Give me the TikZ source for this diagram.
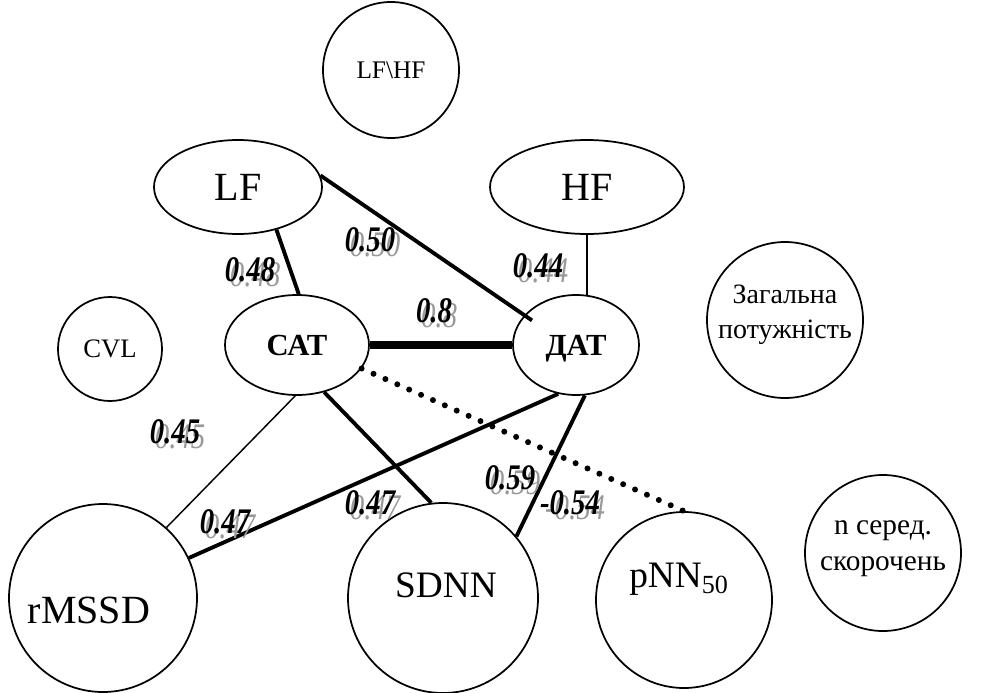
\documentclass[tikz,border=0pt]{standalone}
\usepackage{fontspec}
\setmainfont{Liberation Serif}
\usetikzlibrary{shapes.geometric}
\newcommand{\corrlab}[3]{%
  \node[shadowlab] (#1s) at (#2) {\scalebox{0.8}[1]{#3}};
  \node[corrlab] (#1) at (#2) {\scalebox{0.8}[1]{#3}};}
\begin{document}
\begin{tikzpicture}[x=0.75pt,y=-0.75pt,
  bub/.style={draw, line width=1.3pt, circle, inner sep=0pt, align=center},
  ell/.style={draw, line width=1.3pt, ellipse, inner sep=0pt, align=center},
  txt/.style={inner sep=0pt, align=center},
  thk/.style={line width=2.9pt},
  thn/.style={line width=1.1pt},
  bar/.style={line width=6pt},
  dotline/.style={line width=4.5pt, line cap=round, dash pattern=on 0pt off 9.75pt},
  corrlab/.style={inner sep=0pt, font=\fontsize{27}{29}\selectfont\bfseries\itshape},
  shadowlab/.style={inner sep=0pt, text=black!40, xshift=3.8pt, yshift=-3.3pt, font=\fontsize{27}{29}\selectfont\itshape},
  ]
\useasboundingbox (0,0) rectangle (990,693);
% nodes
\node[bub, minimum size=102pt, font=\fontsize{19}{21}\selectfont] (LFHF) at (391,70) {LF\textbackslash HF};
\node[ell, minimum width=126pt, minimum height=70.5pt, font=\fontsize{30}{32}\selectfont] (LF) at (238,187) {LF};
\node[ell, minimum width=145.5pt, minimum height=70.5pt, font=\fontsize{30}{32}\selectfont] (HF) at (587,187) {HF};
\node[ell, minimum width=108pt, minimum height=75pt, text depth=0pt, font=\fontsize{23}{25}\selectfont\bfseries] (CAT) at (297,345) {САТ};
\node[ell, minimum width=94.5pt, minimum height=75pt, text depth=0pt, font=\fontsize{23}{25}\selectfont\bfseries] (DAT) at (576,345) {ДАТ};
\node[bub, minimum size=78pt, font=\fontsize{20}{22}\selectfont] (CVL) at (110,349) {CVL};
\node[bub, minimum size=117pt] (ZAG) at (785,320) {};
\node[txt, font=\fontsize{21}{26}\selectfont] (ZAGt) at (785,315) {Загальна\\потужність};
\node[bub, minimum size=117pt] (NSER) at (883,553) {};
\node[txt, font=\fontsize{22}{27}\selectfont] (NSERt) at (883,549) {n серед.\\скорочень};
\node[bub, minimum size=141pt] (RMSSD) at (103,598) {};
\node[txt, font=\fontsize{30}{32}\selectfont] (RMSSDt) at (89,610) {rMSSD};
\node[bub, minimum size=142.5pt] (SDNN) at (443,598) {};
\node[txt, font=\fontsize{28}{30}\selectfont] (SDNNt) at (446,585) {SDNN};
\node[bub, minimum size=132pt] (PNN) at (684,600) {};
\node[txt, font=\fontsize{28}{30}\selectfont] (PNNt) at (679,579) {pNN\textsubscript{50}};
% connectors
\draw[thk] (LF.-48) -- (CAT.88);
\draw[thk, shorten >=-7pt] (LF.8) -- (DAT.150);
\draw[thn] (HF.south) -- (HF.south |- DAT.80);
\draw[bar] (CAT.east) -- (DAT.west);
\draw[thn] (CAT.-92) -- (RMSSD.48);
\draw[thk] (DAT.-110) -- (RMSSD.25);
\draw[thk] (CAT.-60) -- (SDNN.97);
\draw[thk] (DAT.-80) -- (SDNN.40);
\draw[dotline] (CAT.-20) -- (PNN.north);
% labels
\corrlab{l1}{250,270}{0.48}
\corrlab{l2}{370,240}{0.50}
\corrlab{l3}{538,266}{0.44}
\corrlab{l4}{434,311}{0.8}
\corrlab{l5}{175,432}{0.45}
\corrlab{l6}{225,522}{0.47}
\corrlab{l7}{370,503}{0.47}
\corrlab{l8}{510,478}{0.59}
\corrlab{l9}{570,503}{-0.54}
\end{tikzpicture}
\end{document}
